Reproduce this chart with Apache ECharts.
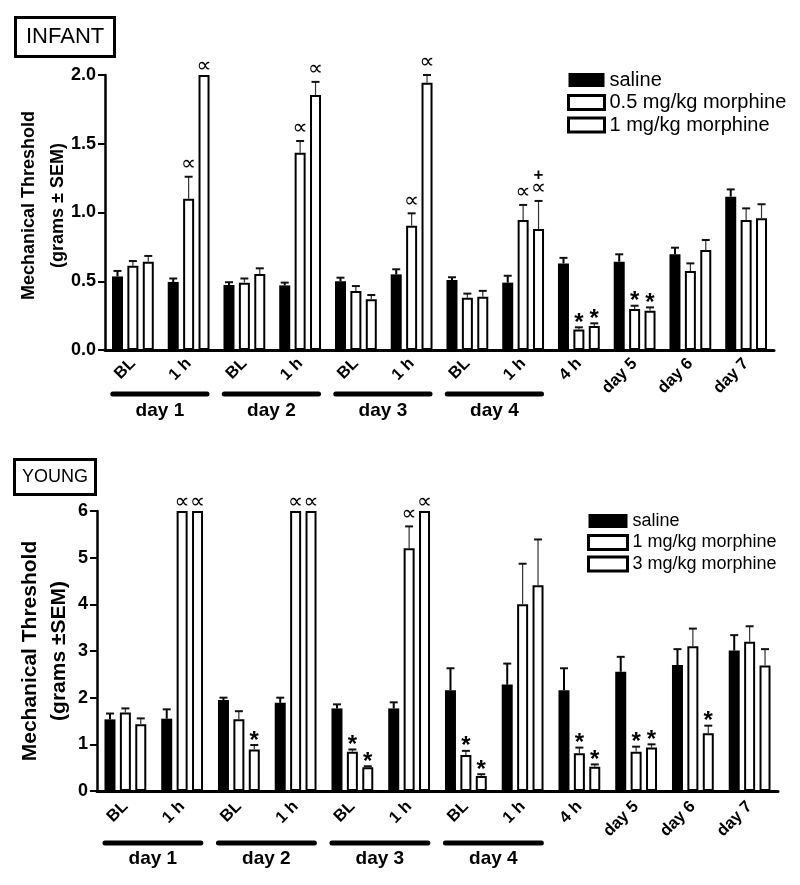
<!DOCTYPE html>
<html><head><meta charset="utf-8">
<script src="https://cdn.jsdelivr.net/npm/echarts@6/dist/echarts.min.js"></script>
<style>html,body{margin:0;padding:0;background:#fff}#c{width:800px;height:885px}</style>
</head><body><div id="c"></div>
<script>
// ---------- data ----------
const categories = ['BL','1 h','BL','1 h','BL','1 h','BL','1 h','4 h','day 5','day 6','day 7'];
const dayGroups = ['day 1','day 2','day 3','day 4'];
const dayGroupSpans = [[0,1],[2,3],[4,5],[6,7]];

const infantNames = ['saline','0.5 mg/kg morphine','1 mg/kg morphine'];
const infantTicks = [0, 2, 0.5];
const infantSaline    = [0.535,0.495,0.473,0.47,0.50,0.55,0.509,0.49,0.63,0.642,0.696,1.115];
const infantSalineErr = [0.04,0.025,0.02,0.02,0.026,0.037,0.02,0.05,0.04,0.054,0.048,0.053];
const infantLow       = [0.613,1.10,0.49,1.435,0.43,0.904,0.38,0.945,0.15,0.298,0.575,0.945];
const infantLowErr    = [0.034,0.16,0.03,0.085,0.035,0.09,0.03,0.11,0.015,0.024,0.055,0.085];
const infantHigh      = [0.642,2.00,0.553,1.855,0.37,1.944,0.388,0.88,0.175,0.286,0.727,0.958];
const infantHighErr   = [0.042,0,0.041,0.095,0.03,0.056,0.042,0.204,0.019,0.024,0.073,0.102];
const infantLowMarks  = ['','∝','','∝','','∝','','∝','*','*','',''];
const infantHighMarks = ['','∝','','∝','','∝','','+\n∝','*','*','',''];

const youngNames = ['saline','1 mg/kg morphine','3 mg/kg morphine'];
const youngTicks = [0, 6, 1];
const youngSaline    = [1.535,1.55,1.95,1.89,1.77,1.77,2.16,2.28,2.16,2.555,2.70,3.01];
const youngSalineErr = [0.125,0.2,0.05,0.11,0.087,0.13,0.47,0.45,0.47,0.32,0.34,0.33];
const youngLow       = [1.68,6,1.54,6,0.84,5.2,0.77,4.0,0.81,0.84,3.1,3.2];
const youngLowErr    = [0.09,0,0.17,0,0.05,0.47,0.09,0.87,0.12,0.11,0.38,0.33];
const youngHigh      = [1.43,6,0.89,6,0.51,6,0.32,4.41,0.52,0.93,1.235,2.69];
const youngHighErr   = [0.126,0,0.095,0,0.02,0,0.04,0.98,0.05,0.07,0.165,0.35];
const youngLowMarks  = ['','∝','','∝','*','∝','*','','*','*','',''];
const youngHighMarks = ['','∝','*','∝','*','∝','*','','*','*','*',''];

// ---------- style ----------
const FONT = 'Liberation Sans, Arial, sans-serif';
const BAR_W = 11;
const BAR_GAP = 0.4;
const PITCH = BAR_W * (1 + BAR_GAP);

const chart = echarts.init(document.getElementById('c'), null, {renderer: 'canvas'});

function barSeries(name, xi, values, filled) {
  return {
    type: 'bar', name, xAxisIndex: xi, yAxisIndex: xi, data: values,
    barWidth: BAR_W, barGap: (BAR_GAP * 100) + '%', silent: true, z: 2,
    itemStyle: filled ? {color: '#000'} : {color: '#fff', borderColor: '#000', borderWidth: 2}
  };
}

function errSeries(xi, values, errs, marks, slot, color, lw) {
  return {
    type: 'custom', xAxisIndex: xi, yAxisIndex: xi, silent: true, z: 5, clip: false,
    data: values.map((v, i) => [i, v, errs[i]]),
    renderItem(params, api) {
      const i = api.value(0), v = api.value(1), e = api.value(2);
      const base = api.coord([i, v]);
      const top = api.coord([i, v + e]);
      const x = base[0] + slot * PITCH;
      const ch = [];
      if (e > 0) {
        ch.push({type: 'line', shape: {x1: x, y1: base[1], x2: x, y2: top[1]}, style: {stroke: color, lineWidth: lw}});
        ch.push({type: 'line', shape: {x1: x - 4, y1: top[1], x2: x + 4, y2: top[1]}, style: {stroke: '#111', lineWidth: 2}});
      }
      const m = marks ? marks[params.dataIndex] : '';
      if (m) {
        const lines = m.split('\n').reverse();
        let y = top[1];
        lines.forEach((t, k) => {
          let st;
          if (t === '*') {
            st = {text: '*', fontSize: 24, fontWeight: 'bold', fontFamily: FONT, fill: '#000', align: 'center', verticalAlign: 'middle'};
            y = top[1] - 4;
          } else if (t === '∝') {
            st = {text: '∝', fontSize: 21, fontFamily: 'DejaVu Sans', fill: '#000', align: 'center', verticalAlign: 'middle'};
            y = k === 0 ? top[1] - (e > 0 ? 12 : 8) : y - 14;
          } else {
            st = {text: t, fontSize: 17, fontWeight: 'bold', fontFamily: FONT, fill: '#000', align: 'center', verticalAlign: 'middle'};
            y = y - 14;
          }
          ch.push({type: 'text', x: x, y: y, style: st});
        });
      }
      return {type: 'group', children: ch};
    }
  };
}

function xAxisCfg(gi, margin) {
  return {
    type: 'category', gridIndex: gi, data: categories,
    axisLine: {lineStyle: {color: '#000', width: 3}},
    axisTick: {show: false},
    axisLabel: {interval: 0, rotate: 45, margin, color: '#000', fontFamily: FONT, fontWeight: 'bold', fontSize: 16.5},
    splitLine: {show: false}
  };
}

function yAxisCfg(gi, ticks, name, nameGap, nameSize, decimals, pad) {
  return {
    type: 'value', gridIndex: gi, min: ticks[0], max: ticks[1], interval: ticks[2],
    axisLine: {show: true, lineStyle: {color: '#000', width: 2.5}},
    axisTick: {show: true, length: 7, lineStyle: {color: '#000', width: 2}},
    axisLabel: {margin: 9, color: '#000', fontFamily: FONT, fontWeight: 'bold', fontSize: 18,
      formatter: v => v.toFixed(decimals)},
    splitLine: {show: false},
    name, nameLocation: 'middle', nameGap, nameRotate: 90, nameMoveOverlap: false,
    nameTextStyle: {color: '#000', fontFamily: FONT, fontWeight: 'bold', fontSize: nameSize, lineHeight: 29, padding: pad}
  };
}

function legendCfg(names, left, top, size, gap, iw) {
  return {
    orient: 'vertical', left, top, itemWidth: iw, itemHeight: 14, itemGap: gap, icon: 'rect',
    selectedMode: false, padding: 0,
    textStyle: {color: '#000', fontFamily: FONT, fontSize: size, lineHeight: size},
    data: names.map((n, k) => ({
      name: n,
      itemStyle: k === 0 ? {color: '#000', borderWidth: 0} : {color: '#fff', borderColor: '#000', borderWidth: 3}
    }))
  };
}

const option = {
  animation: false,
  backgroundColor: '#fff',
  title: [
    {text: 'INFANT', left: 15, top: 17, borderColor: '#000', borderWidth: 3, padding: [8, 11, 8, 11],
      textStyle: {fontFamily: FONT, fontSize: 22, fontWeight: 'normal', color: '#000', lineHeight: 24}},
    {text: 'YOUNG', left: 14, top: 459, borderColor: '#000', borderWidth: 3, padding: [8, 8, 8, 8],
      textStyle: {fontFamily: FONT, fontSize: 18, fontWeight: 'normal', color: '#000', lineHeight: 20}}
  ],
  legend: [
    legendCfg(infantNames, 567, 70, 20, 2.5, 36),
    legendCfg(youngNames, 587, 512, 18, 3.5, 39)
  ],
  grid: [
    {left: 105, top: 75, width: 669, height: 275, containLabel: false, outerBoundsMode: 'none'},
    {left: 97, top: 511, width: 681, height: 280, containLabel: false, outerBoundsMode: 'none'}
  ],
  xAxis: [xAxisCfg(0, 11), xAxisCfg(1, 13)],
  yAxis: [
    yAxisCfg(0, infantTicks, 'Mechanical Threshold\n(grams ± SEM)', 32, 18, 1, [0, 0, 0, 14]),
    yAxisCfg(1, youngTicks, 'Mechanical Threshold\n(grams \u00B1SEM)', 23, 21, 0, [0, 0, 0, 0])
  ],
  series: [
    barSeries(infantNames[0], 0, infantSaline, true),
    barSeries(infantNames[1], 0, infantLow, false),
    barSeries(infantNames[2], 0, infantHigh, false),
    errSeries(0, infantSaline, infantSalineErr, null, -1, '#000', 2),
    errSeries(0, infantLow, infantLowErr, infantLowMarks, 0, '#333', 1.2),
    errSeries(0, infantHigh, infantHighErr, infantHighMarks, 1, '#333', 1.2),
    barSeries(youngNames[0], 1, youngSaline, true),
    barSeries(youngNames[1], 1, youngLow, false),
    barSeries(youngNames[2], 1, youngHigh, false),
    errSeries(1, youngSaline, youngSalineErr, null, -1, '#000', 2),
    errSeries(1, youngLow, youngLowErr, youngLowMarks, 0, '#333', 1.2),
    errSeries(1, youngHigh, youngHighErr, youngHighMarks, 1, '#333', 1.2)
  ]
};
chart.setOption(option);

function brackets(xi, lineY, textY) {
  const out = [];
  dayGroupSpans.forEach((sp, k) => {
    const c1 = chart.convertToPixel({xAxisIndex: xi}, sp[0]);
    const c2 = chart.convertToPixel({xAxisIndex: xi}, sp[1]);
    const bw = c2 - c1;
    const x1 = c1 - 0.36 * bw, x2 = c2 + 0.33 * bw;
    out.push({type: 'line', silent: true, shape: {x1, y1: lineY, x2, y2: lineY},
      style: {stroke: '#000', lineWidth: 5, lineCap: 'round'}});
    out.push({type: 'text', silent: true, x: (x1 + x2) / 2, y: textY,
      style: {text: dayGroups[k], fontSize: 19, fontWeight: 'bold', fontFamily: FONT, fill: '#000', align: 'center', verticalAlign: 'middle'}});
  });
  return out;
}
chart.setOption({graphic: brackets(0, 394, 411).concat(brackets(1, 843, 859))});
</script>
</body></html>
